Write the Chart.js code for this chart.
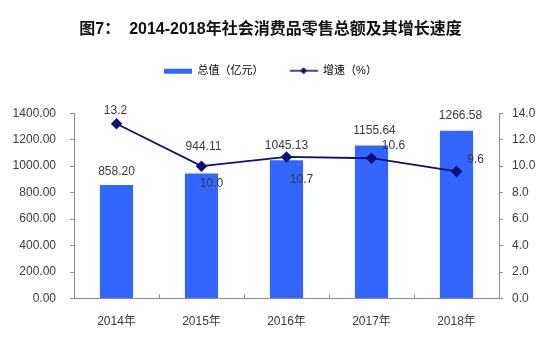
<!DOCTYPE html>
<html>
<head>
<meta charset="utf-8">
<script src="https://cdn.jsdelivr.net/npm/chart.js@4/dist/chart.umd.min.js"></script>
<style>
html,body{margin:0;padding:0;background:#fff;}
#wrap{width:551px;height:346px;}
</style>
</head>
<body>
<div id="wrap"><canvas id="c" width="551" height="346"></canvas></div>
<script>
const categories = ['2014年', '2015年', '2016年', '2017年', '2018年'];
const totalValues = [858.20, 944.11, 1045.13, 1155.64, 1266.58];
const growthValues = [13.2, 10.0, 10.7, 10.6, 9.6];
const leftTicks = [0, 200, 400, 600, 800, 1000, 1200, 1400];
const rightTicks = [0, 2, 4, 6, 8, 10, 12, 14];

const FONT = '"Liberation Sans", Arial, "Noto Sans CJK SC", sans-serif';
const BAR_COLOR = '#3366FF';
const LINE_COLOR = '#0a0f7a';
const TEXT_COLOR = '#3a3a3a';
const AXIS_COLOR = '#8c8c8c';

// label offsets (pixels) relative to bar top / point
const barLabelOffsets = [[0, -13], [2, -27], [0, -15], [3, -15], [4, -15]];
const lineLabelOffsets = [[-1, -13], [10, 18], [15, 23], [22, -13], [19, -12]];
const LEGEND_EXTRA = 27;

function makeLegendImg(kind) {
  const cv = document.createElement('canvas');
  cv.width = 28; cv.height = 10;
  const g = cv.getContext('2d');
  if (kind === 'bar') {
    g.fillStyle = BAR_COLOR;
    g.fillRect(0, 3, 28, 5);
  } else {
    g.strokeStyle = LINE_COLOR;
    g.lineWidth = 1.5;
    g.beginPath(); g.moveTo(0, 5); g.lineTo(28, 5); g.stroke();
    g.fillStyle = LINE_COLOR;
    g.beginPath(); g.moveTo(14, 1.5); g.lineTo(17.5, 5); g.lineTo(14, 8.5); g.lineTo(10.5, 5); g.closePath(); g.fill();
  }
  return cv;
}
const legendImgs = [makeLegendImg('bar'), makeLegendImg('line')];

const legendSpacePlugin = {
  id: 'legendSpace',
  beforeLayout(chart) {
    const lg = chart.legend;
    if (lg && !lg._spaceWrapped) {
      const f = lg.fit;
      lg.fit = function () { f.call(this); this.height += LEGEND_EXTRA; };
      lg._spaceWrapped = true;
    }
  }
};

const labelPlugin = {
  id: 'valueLabels',
  afterDatasetsDraw(chart) {
    const ctx = chart.ctx;
    ctx.save();
    ctx.font = '12px ' + FONT;
    ctx.fillStyle = TEXT_COLOR;
    ctx.textAlign = 'center';
    ctx.textBaseline = 'middle';
    const barMeta = chart.getDatasetMeta(1);
    barMeta.data.forEach((el, i) => {
      const o = barLabelOffsets[i];
      ctx.fillText(totalValues[i].toFixed(2), el.x + o[0], el.y + o[1]);
    });
    const lineMeta = chart.getDatasetMeta(0);
    lineMeta.data.forEach((el, i) => {
      const o = lineLabelOffsets[i];
      ctx.fillText(growthValues[i].toFixed(1), el.x + o[0], el.y + o[1]);
    });
    ctx.restore();
  }
};

const xTickPlugin = {
  id: 'xInnerTicks',
  afterDraw(chart) {
    const x = chart.scales.x;
    const ctx = chart.ctx;
    const bottom = chart.chartArea.bottom;
    ctx.save();
    ctx.strokeStyle = AXIS_COLOR;
    ctx.lineWidth = 1;
    for (let i = 1; i < categories.length; i++) {
      const px = Math.round((x.getPixelForValue(i - 1) + x.getPixelForValue(i)) / 2) + 0.5;
      ctx.beginPath(); ctx.moveTo(px, bottom); ctx.lineTo(px, bottom - 4); ctx.stroke();
    }
    ctx.restore();
  }
};

new Chart(document.getElementById('c'), {
  data: {
    labels: categories,
    datasets: [
      {
        type: 'line',
        label: '增速（%）',
        data: growthValues,
        yAxisID: 'y2',
        borderColor: LINE_COLOR,
        backgroundColor: LINE_COLOR,
        borderWidth: 1.8,
        pointStyle: 'rectRot',
        pointRadius: 4.5,
        pointHoverRadius: 4.5,
        tension: 0,
        order: 0
      },
      {
        type: 'bar',
        label: '总值（亿元）',
        data: totalValues,
        yAxisID: 'y',
        backgroundColor: BAR_COLOR,
        barPercentage: 0.39,
        categoryPercentage: 1,
        order: 1
      }
    ]
  },
  options: {
    responsive: false,
    animation: false,
    devicePixelRatio: 1,
    layout: { padding: { left: 0, right: 10, top: 0, bottom: 1 } },
    plugins: {
      tooltip: { enabled: false },
      title: {
        display: true,
        text: '图7：  2014-2018年社会消费品零售总额及其增长速度',
        color: '#111',
        font: { family: FONT, size: 16, weight: 'bold' },
        padding: { top: 20, bottom: 0 }
      },
      legend: {
        display: true,
        labels: {
          color: TEXT_COLOR,
          font: { family: FONT, size: 11 },
          usePointStyle: true,
          pointStyleWidth: 28,
          padding: 26,
          generateLabels() {
            return [
              { text: '总值（亿元）', pointStyle: legendImgs[0], fillStyle: BAR_COLOR, strokeStyle: BAR_COLOR, lineWidth: 0, datasetIndex: 1 },
              { text: '增速（%）', pointStyle: legendImgs[1], fillStyle: LINE_COLOR, strokeStyle: LINE_COLOR, lineWidth: 0, datasetIndex: 0 }
            ];
          }
        }
      }
    },
    scales: {
      x: {
        offset: true,
        grid: { display: false, drawTicks: false },
        border: { display: true, color: AXIS_COLOR, width: 1 },
        ticks: { color: TEXT_COLOR, font: { family: FONT, size: 12 }, padding: 16, maxRotation: 0 }
      },
      y: {
        position: 'left',
        min: 0, max: 1400,
        afterBuildTicks(s) { s.ticks = leftTicks.map(v => ({ value: v })); },
        afterFit(s) { s.width = 74; },
        grid: { drawOnChartArea: false, drawTicks: true, tickLength: 4, color: AXIS_COLOR },
        border: { display: true, color: AXIS_COLOR, width: 1 },
        ticks: { color: TEXT_COLOR, font: { family: FONT, size: 12 }, padding: 14, callback: v => Number(v).toFixed(2) }
      },
      y2: {
        position: 'right',
        min: 0, max: 14,
        afterBuildTicks(s) { s.ticks = rightTicks.map(v => ({ value: v })); },
        afterFit(s) { s.width = 42; },
        grid: { drawOnChartArea: false, drawTicks: true, tickLength: 4, color: AXIS_COLOR },
        border: { display: true, color: AXIS_COLOR, width: 1 },
        ticks: { color: TEXT_COLOR, font: { family: FONT, size: 12 }, padding: 9, callback: v => Number(v).toFixed(1) }
      }
    }
  },
  plugins: [legendSpacePlugin, labelPlugin, xTickPlugin]
});
</script>
</body>
</html>
